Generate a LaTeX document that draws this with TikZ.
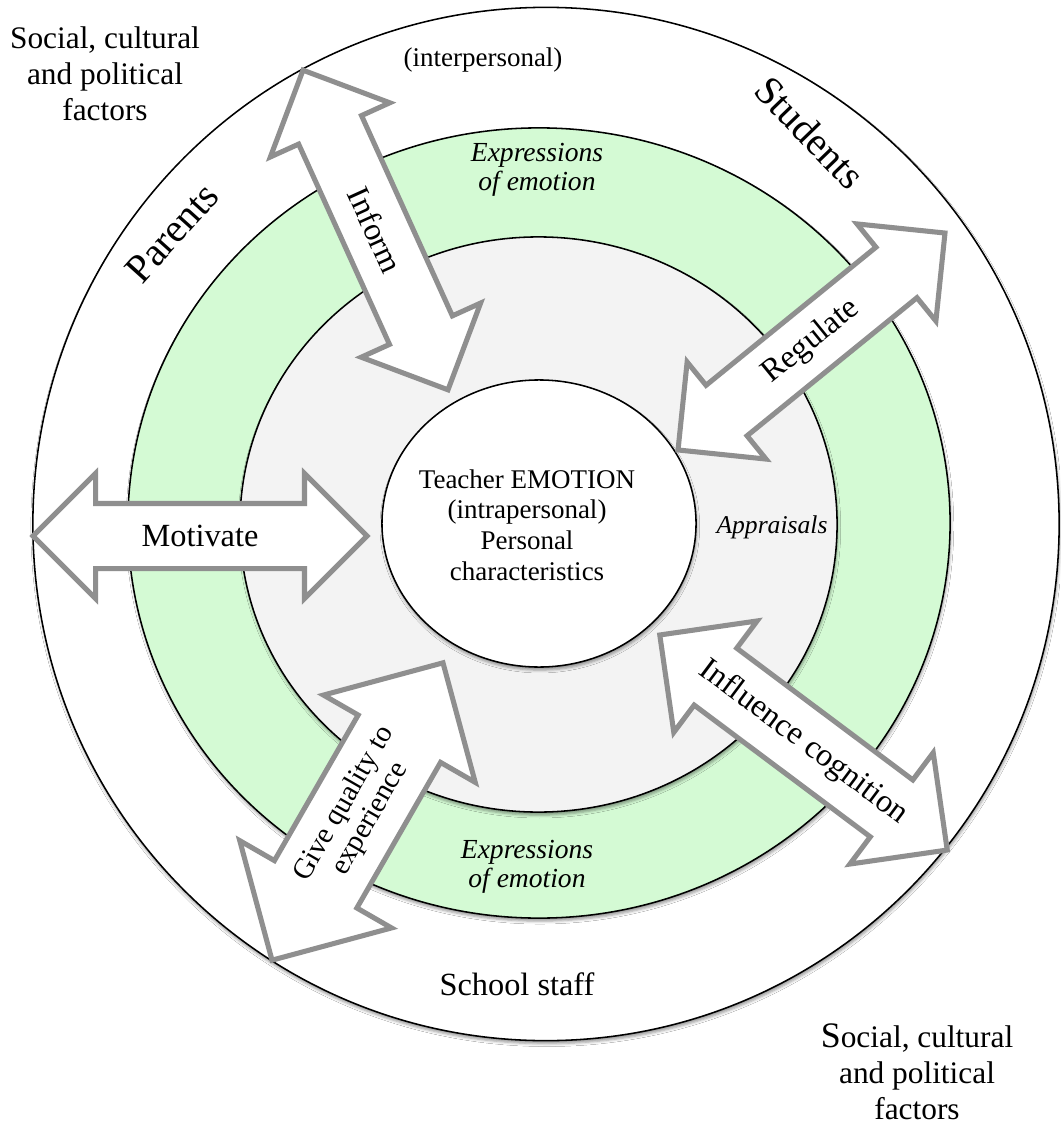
\documentclass[tikz,border=0pt]{standalone}
\usepackage{fontspec}
\setmainfont{Liberation Serif}
\usetikzlibrary{shapes.arrows,shadows.blur}
\definecolor{ringgreen}{RGB}{212,250,212}
\definecolor{ringgray}{RGB}{243,243,243}
\definecolor{arrowgray}{RGB}{143,143,143}

\begin{document}
\begin{tikzpicture}[
  x=0.025cm, y=-0.025cm,
  ring/.style={draw=black, line width=1.1pt, blur shadow={shadow xshift=0.6pt, shadow yshift=-2.2pt, shadow blur radius=2pt, shadow opacity=40}},
  two_way/.style n args={3}{double arrow, draw=arrowgray, line width=3.6pt, fill=white, inner xsep=0pt, inner ysep=#2*0.025cm, double arrow tip angle=90, minimum height=#1*0.025cm, double arrow head extend=#3*0.025cm},
  factors_text/.style={font=\fontsize{22.3}{25.6}\selectfont, align=center},
  group_text/.style={font=\fontsize{28.5}{32}\selectfont},
  arrow_text/.style={font=\fontsize{23}{26}\selectfont},
  small_arrow_text/.style={font=\fontsize{20.6}{21.3}\selectfont, align=center},
  expr_text/.style={font=\fontsize{19.6}{20.4}\selectfont\itshape, align=center},
  core_text/.style={font=\fontsize{19.2}{21.8}\selectfont, align=center},
]
\useasboundingbox (0,0) rectangle (1060,1128);
\fill[white] (0,0) rectangle (1060,1128);

\draw[ring, fill=white] (546,524) ellipse [x radius=12.825cm, y radius=12.9125cm];
\draw[ring, fill=ringgreen] (539,523) ellipse [x radius=10.275cm, y radius=9.875cm];
\draw[ring, fill=ringgray] (538.5,524.5) ellipse [x radius=7.4625cm, y radius=7.1875cm];
\draw[ring, fill=white] (539,523.5) ellipse [x radius=3.925cm, y radius=3.5875cm];

\draw (105,73.5) node (factors_top) [factors_text] {Social, cultural\\and political\\factors};
\draw (917,1072) node (factors_bottom) [factors_text] {{\fontsize{25.5}{25.6}\selectfont S}ocial, cultural\\and political\\factors};
\draw (483,67) node (interpersonal) [anchor=base, font=\fontsize{19.2}{22}\selectfont] {(interpersonal)};
\draw (172,233) node (parents) [group_text, rotate=48] {Parents};
\draw (810,133) node (students) [group_text, rotate=-46] {Students};
\draw (517,995) node (school_staff) [anchor=base, font=\fontsize{23}{26}\selectfont] {School staff};
\draw (537,170) node (expr_top) [expr_text] {Expressions\\of emotion};
\draw (527,867) node (expr_bottom) [expr_text] {Expressions\\of emotion};
\draw (772,533) node (appraisals) [anchor=base, font=\fontsize{18.2}{20}\selectfont\itshape] {Appraisals};
\draw (527,525) node (core) [core_text] {Teacher EMOTION\\(intrapersonal)\\Personal\\characteristics};

\draw (200,536) node (motivate) [two_way={334}{30}{30}] {};
\draw (375.5,230) node (inform) [two_way={351}{32}{31}, rotate=-65.6] {};
\draw (811.5,341.5) node (regulate) [two_way={344}{30}{30}, rotate=39.1] {};
\draw (803.5,742.5) node (influence) [two_way={359}{33}{34}, rotate=-36.8] {};
\draw (357.5,811.5) node (give_quality) [two_way={343}{45}{40}, rotate=60.1] {};

\draw (motivate.center) node (motivate_label) [arrow_text] {Motivate};
\draw (inform.center) node (inform_label) [arrow_text, rotate=-65.6] {Inform};
\draw (regulate.center) node (regulate_label) [arrow_text, rotate=39.1] {Regulate};
\draw (influence.center) node (influence_label) [arrow_text, rotate=-36.8] {Influence cognition};
\draw (give_quality.center) node (give_quality_label) [small_arrow_text, rotate=60.1] {Give quality to\\experience};
\end{tikzpicture}
\end{document}
